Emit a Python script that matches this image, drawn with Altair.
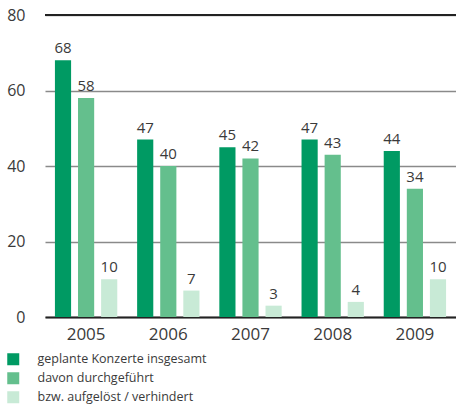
import altair as alt
import pandas as pd

years = ["2005", "2006", "2007", "2008", "2009"]
series = ["geplante Konzerte insgesamt", "davon durchgeführt", "bzw. aufgelöst / verhindert"]
geplant = [68, 47, 45, 47, 44]
durchgefuehrt = [58, 40, 42, 43, 34]
aufgeloest = [10, 7, 3, 4, 10]
colors = ["#009a63", "#64bf8d", "#c8ead6"]
y_ticks = [0, 20, 40, 60, 80]

rows = []
for vals, s in zip([geplant, durchgefuehrt, aufgeloest], series):
    for y, v in zip(years, vals):
        rows.append({"Jahr": y, "Serie": s, "Wert": v})
df = pd.DataFrame(rows)

FONT = "Open Sans"
TXT = "#3a3a3a"

x = alt.X("Jahr:N", sort=years,
          scale=alt.Scale(paddingInner=0, paddingOuter=0),
          axis=alt.Axis(title=None, labelAngle=0, ticks=False, domain=True,
                        domainColor="#222222", domainWidth=2, labelFontSize=17,
                        labelColor=TXT, labelFont=FONT, labelPadding=9))
xo = alt.XOffset("Serie:N", sort=series,
                 scale=alt.Scale(paddingInner=0.3, paddingOuter=0.43))
y = alt.Y("Wert:Q", scale=alt.Scale(domain=[0, 80], nice=False),
          axis=alt.Axis(title=None, values=y_ticks, ticks=False, domain=False,
                        grid=True, gridColor="#8a8a8a", gridWidth=1.6,
                        labelFontSize=16, labelColor=TXT, labelFont=FONT,
                        labelPadding=20))
color = alt.Color("Serie:N", sort=series,
                  scale=alt.Scale(domain=series, range=colors),
                  legend=alt.Legend(title=None, orient="none", legendX=-38,
                                    legendY=338, symbolType="square",
                                    symbolSize=144, symbolStrokeWidth=0,
                                    labelFontSize=12.5, labelFont=FONT,
                                    labelColor=TXT, labelOffset=18,
                                    labelLimit=400,
                                    rowPadding=6, padding=0, direction="vertical"))

base = alt.Chart(df)
bars = base.mark_bar().encode(x=x, xOffset=xo, y=y, color=color)
labels = base.mark_text(baseline="bottom", dy=-4, fontSize=15, font=FONT,
                        color=TXT).encode(x=x, xOffset=xo, y="Wert:Q",
                                          text="Wert:Q")
top = alt.Chart(pd.DataFrame({"v": [80]})).mark_rule(
    color="#222222", strokeWidth=2).encode(y="v:Q")

chart = alt.layer(bars, labels, top).properties(
    width=411, height=302,
    padding={"left": 45, "top": 15, "right": 0, "bottom": 90},
    autosize=alt.AutoSizeParams(type="none"),
).configure_view(stroke=None)

chart.save("out.html", embed_options={"renderer": "svg", "actions": False})
